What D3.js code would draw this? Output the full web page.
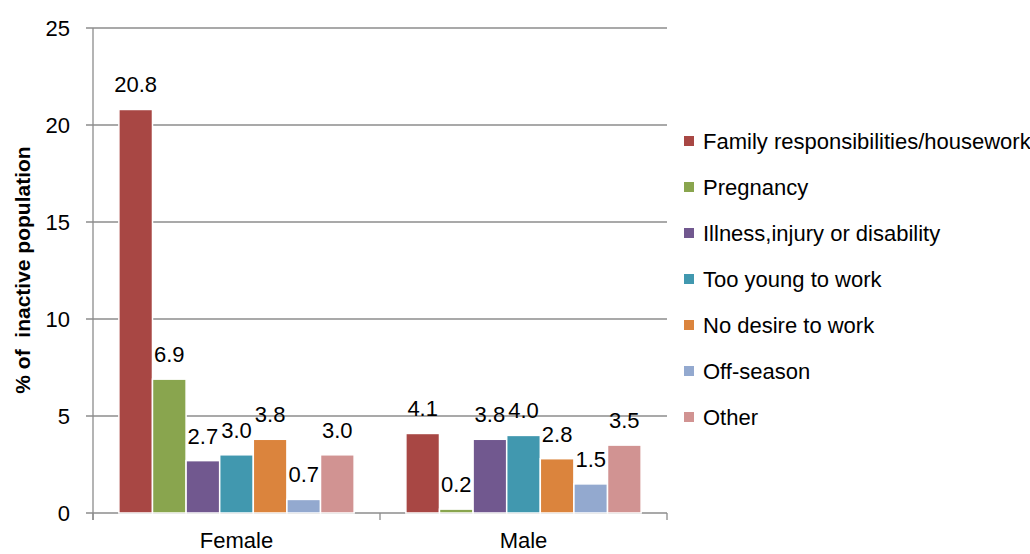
<!DOCTYPE html>
<html>
<head>
<meta charset="utf-8">
<script src="https://cdn.jsdelivr.net/npm/d3@7"></script>
<style>
  body { margin: 0; background: #fff; }
  svg { display: block; font-family: Arial, "Liberation Sans", sans-serif; }
</style>
</head>
<body>
<div id="chart"></div>
<script>
const categories = ["Female", "Male"];
const reasons = [
  "Family responsibilities/housework",
  "Pregnancy",
  "Illness,injury or disability",
  "Too young to work",
  "No desire to work",
  "Off-season",
  "Other"
];
const femaleValues = [20.8, 6.9, 2.7, 3.0, 3.8, 0.7, 3.0];
const maleValues = [4.1, 0.2, 3.8, 4.0, 2.8, 1.5, 3.5];
const yTicks = [0, 5, 10, 15, 20, 25];
const colors = ["#a84744", "#89a54e", "#71588f", "#4198af", "#db843d", "#93a9cf", "#d19392"];

const width = 1030, height = 554;
const plotLeft = 93, plotRight = 667, plotTop = 28, plotBottom = 513;

const series = { Female: femaleValues, Male: maleValues };

const svg = d3.select("#chart")
  .append("svg")
  .attr("width", width)
  .attr("height", height);

const x0 = d3.scaleBand().domain(categories).range([plotLeft, plotRight]);
const x1 = d3.scaleBand().domain(reasons).range([0, x0.bandwidth()]).paddingOuter(0.77);
const y = d3.scaleLinear().domain([0, 25]).range([plotBottom, plotTop]);
const color = d3.scaleOrdinal().domain(reasons).range(colors);

// gridlines
svg.append("g")
  .selectAll("line")
  .data(yTicks)
  .join("line")
  .attr("x1", plotLeft - 7)
  .attr("x2", plotRight)
  .attr("y1", d => y(d))
  .attr("y2", d => y(d))
  .attr("stroke", "#8c8c8c")
  .attr("stroke-width", 1.3);

// y tick labels
svg.append("g")
  .selectAll("text")
  .data(yTicks)
  .join("text")
  .attr("x", 70)
  .attr("y", d => y(d))
  .attr("dy", "0.35em")
  .attr("text-anchor", "end")
  .attr("font-size", 22)
  .attr("fill", "#000")
  .text(d => d);

// y axis line
svg.append("line")
  .attr("x1", plotLeft).attr("x2", plotLeft)
  .attr("y1", plotTop).attr("y2", plotBottom + 7)
  .attr("stroke", "#8c8c8c")
  .attr("stroke-width", 1.3);

// x tick marks at category boundaries
const xEdges = [plotLeft, ...categories.map(c => x0(c) + x0.bandwidth())];
svg.append("g")
  .selectAll("line")
  .data(xEdges)
  .join("line")
  .attr("x1", d => d).attr("x2", d => d)
  .attr("y1", plotBottom).attr("y2", plotBottom + 7)
  .attr("stroke", "#8c8c8c")
  .attr("stroke-width", 1.3);

// bars
const groups = svg.append("g")
  .selectAll("g")
  .data(categories)
  .join("g")
  .attr("transform", c => `translate(${x0(c)},0)`);

groups.selectAll("rect")
  .data(c => reasons.map((r, i) => ({ r, v: series[c][i] })))
  .join("rect")
  .attr("x", d => x1(d.r))
  .attr("width", x1.bandwidth())
  .attr("y", d => y(d.v))
  .attr("height", d => y(0) - y(d.v))
  .attr("fill", d => color(d.r))
  .attr("stroke", "#fff")
  .attr("stroke-width", 1.5);

groups.selectAll("text")
  .data(c => reasons.map((r, i) => ({ r, v: series[c][i] })))
  .join("text")
  .attr("x", d => x1(d.r) + x1.bandwidth() / 2)
  .attr("y", d => y(d.v) - 17)
  .attr("text-anchor", "middle")
  .attr("font-size", 22)
  .attr("fill", "#000")
  .text(d => d.v.toFixed(1));

// category labels
svg.append("g")
  .selectAll("text")
  .data(categories)
  .join("text")
  .attr("x", c => x0(c) + x0.bandwidth() / 2)
  .attr("y", 548)
  .attr("text-anchor", "middle")
  .attr("font-size", 22)
  .attr("fill", "#000")
  .text(c => c);

// y axis title
svg.append("text")
  .attr("transform", "translate(30,270) rotate(-90)")
  .attr("text-anchor", "middle")
  .attr("font-size", 21)
  .attr("font-weight", "bold")
  .attr("fill", "#000")
  .attr("xml:space", "preserve")
  .text("% of  inactive population");

// legend
const legend = svg.append("g")
  .selectAll("g")
  .data(reasons)
  .join("g")
  .attr("transform", (d, i) => `translate(684,${141 + i * 46})`);

legend.append("rect")
  .attr("x", 0)
  .attr("y", -5)
  .attr("width", 10)
  .attr("height", 10)
  .attr("fill", d => color(d));

legend.append("text")
  .attr("x", 19)
  .attr("dy", "0.35em")
  .attr("font-size", 22)
  .attr("fill", "#000")
  .text(d => d);
</script>
</body>
</html>
